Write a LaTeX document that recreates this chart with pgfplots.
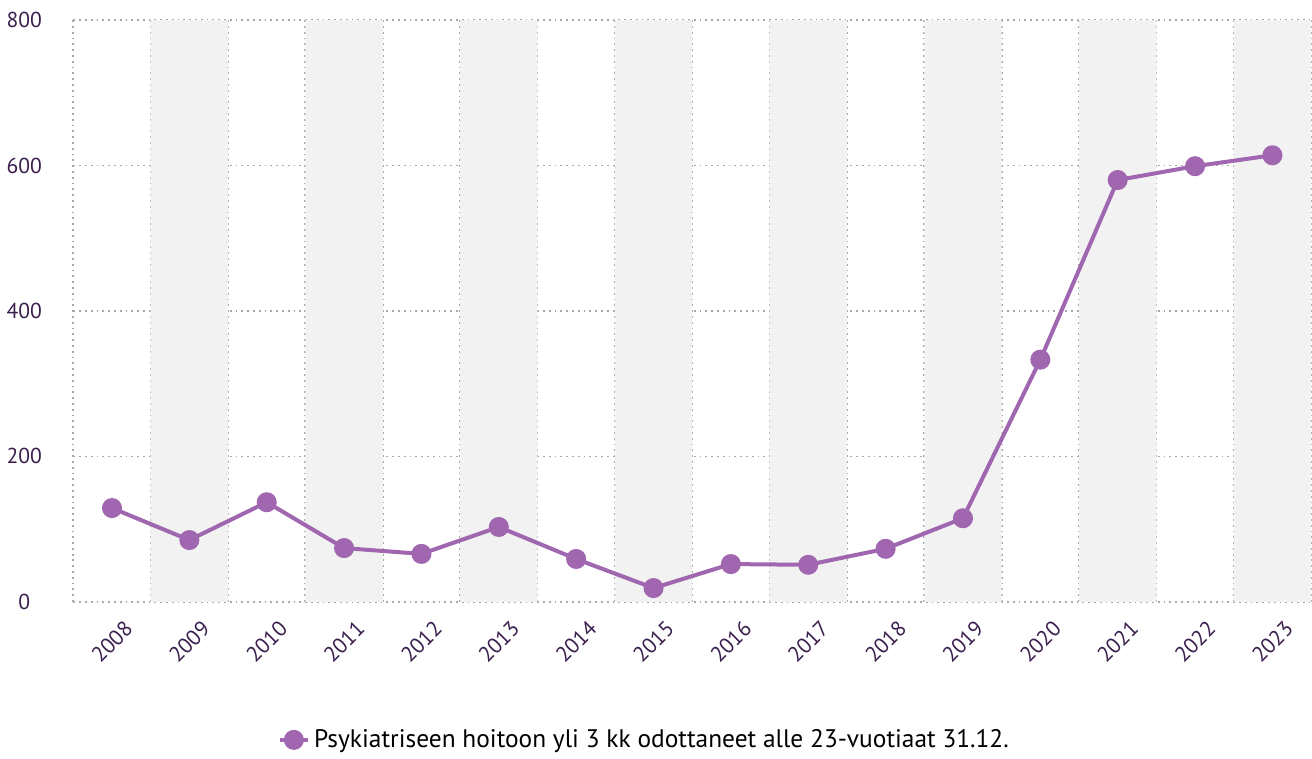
\documentclass[border=0pt]{standalone}
\usepackage{pgfplots}
\pgfplotsset{compat=1.18}
\usepackage{fontspec}
\setmainfont{PT Sans}
\definecolor{linec}{HTML}{A066B0}
\definecolor{tickc}{HTML}{3B1F4E}
\definecolor{gridc}{HTML}{A8A8A8}
\definecolor{bandc}{HTML}{F2F2F2}
\begin{document}
\begin{tikzpicture}
\begin{axis}[
  scale only axis,
  width=619pt, height=291pt,
  xmin=-0.5, xmax=15.5, ymin=0, ymax=800,
  axis line style={draw=none},
  xtick={0,...,15},
  xticklabels={2008,2009,2010,2011,2012,2013,2014,2015,2016,2017,2018,2019,2020,2021,2022,2023},
  minor xtick={-0.5,0.5,...,15.5},
  ytick={0,200,400,600,800},
  major tick length=0pt, minor tick length=0pt,
  ymajorgrids, xminorgrids,
  grid style={draw=gridc, dotted, line width=0.9pt},
  major grid style={draw=gridc, dotted, line width=0.9pt},
  minor grid style={draw=gridc, dotted, line width=0.9pt},
  tick label style={font=\fontsize{10.8}{12}\selectfont, text=tickc},
  /pgf/number format/assume math mode=true,
  xticklabel style={rotate=45, anchor=center, xshift=-14.1pt, yshift=-14.1pt},
  yticklabel style={anchor=center, xshift=-24.5pt},
  clip=false,
  legend style={at={(0.5,0)}, anchor=center, yshift=-69pt, xshift=-23.5pt, draw=none, fill=none, font=\fontsize{12.7}{14}\selectfont, text=black, legend cell align=left},
  legend image code/.code={
    \draw[linec, line width=2pt] (0cm,0cm) -- (0.5cm,0cm);
    \fill[linec] (0.25cm,0cm) circle (4pt);
  },
]
\addplot[ybar interval, fill=bandc, draw=none, forget plot] coordinates {
(-0.5,0) (0.5,800) (1.5,0) (2.5,800) (3.5,0) (4.5,800) (5.5,0) (6.5,800) (7.5,0) (8.5,800) (9.5,0) (10.5,800) (11.5,0) (12.5,800) (13.5,0) (14.5,800) (15.5,0)
};
\addplot[linec, line width=2pt, mark=*, mark size=4pt, mark options={fill=linec, draw=linec}] coordinates {
(0,129) (1,85) (2,137) (3,74) (4,66) (5,103) (6,59) (7,19) (8,52) (9,51) (10,73) (11,115) (12,333) (13,580) (14,599) (15,614)
};
\addlegendentry{Psykiatriseen hoitoon yli 3 kk odottaneet alle 23-vuotiaat 31.12.}
\end{axis}
\path (current axis.north west) ++(0,10pt) coordinate (topx);
\path[use as bounding box] (current bounding box.south west) rectangle (current bounding box.north east |- topx);
\end{tikzpicture}
\end{document}
